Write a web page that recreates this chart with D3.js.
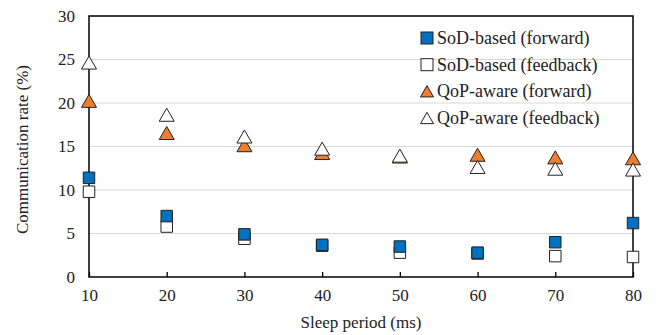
<!DOCTYPE html>
<html>
<head>
<meta charset="utf-8">
<script src="https://cdn.jsdelivr.net/npm/d3@7/dist/d3.min.js"></script>
<style>
  html, body { margin: 0; padding: 0; background: #fff; }
  svg { display: block; }
</style>
</head>
<body>
<svg id="chart" width="656" height="335" font-family="Liberation Serif"></svg>
<script>
// Sleep period (ms) on the x axis
const sleepPeriods = [10, 20, 30, 40, 50, 60, 70, 80];
const yTicks = [0, 5, 10, 15, 20, 25, 30];

// Communication rate (%) for each scheme
const sodForward   = [11.4, 7.0, 4.9, 3.7, 3.5, 2.8, 4.0, 6.2];
const sodFeedback  = [9.8, 5.8, 4.4, 3.6, 2.8, 2.7, 2.4, 2.3];
const qopForward   = [20.1, 16.4, 15.0, 14.1, 13.7, 13.9, 13.6, 13.5];
const qopFeedback  = [24.5, 18.5, 16.0, 14.6, 13.8, 12.5, 12.3, 12.2];

const seriesNames = ["SoD-based (forward)", "SoD-based (feedback)", "QoP-aware (forward)", "QoP-aware (feedback)"];

const series = [
  { name: seriesNames[0], values: sodForward,  shape: "square",   fill: "#0070c0" },
  { name: seriesNames[1], values: sodFeedback, shape: "square",   fill: "#ffffff" },
  { name: seriesNames[2], values: qopForward,  shape: "triangle", fill: "#ed7d31" },
  { name: seriesNames[3], values: qopFeedback, shape: "triangle", fill: "#ffffff" }
];

const TXT = "#222";

const svg = d3.select("#chart");
const margin = { left: 89, right: 23, top: 16, bottom: 58 };
const W = 656, H = 335;

const x = d3.scaleLinear().domain([10, 80]).range([margin.left, W - margin.right]);
const y = d3.scaleLinear().domain([0, 30]).range([H - margin.bottom, margin.top]);

function styleText(sel, size) {
  return sel.attr("font-family", "Liberation Serif").attr("font-size", size).attr("fill", TXT);
}

// horizontal gridlines
svg.append("g")
  .selectAll("line")
  .data(yTicks.filter(t => t > 0 && t < 30))
  .join("line")
  .attr("x1", x(10)).attr("x2", x(80))
  .attr("y1", d => y(d)).attr("y2", d => y(d))
  .attr("stroke", "#d9d9d9").attr("stroke-width", 1.2);

// y axis labels
const yAxis = d3.axisLeft(y).tickValues(yTicks).tickSize(0).tickPadding(14);
const gy = svg.append("g").attr("transform", `translate(${x(10)},0)`).call(yAxis);
gy.attr("font-family", "Liberation Serif").attr("font-size", 17);
gy.select(".domain").remove();
styleText(gy.selectAll("text"), 17);

// x axis with inward ticks
const xAxis = d3.axisBottom(x).tickValues(sleepPeriods).tickSizeInner(-5).tickSizeOuter(0).tickPadding(12);
const gx = svg.append("g").attr("transform", `translate(0,${y(0)})`).call(xAxis);
gx.attr("font-family", "Liberation Serif").attr("font-size", 17);
gx.select(".domain").remove();
gx.selectAll(".tick line").attr("stroke", "#000").attr("stroke-width", 1.3);
styleText(gx.selectAll("text"), 17);

// plot frame
svg.append("rect")
  .attr("x", x(10)).attr("y", y(30))
  .attr("width", x(80) - x(10)).attr("height", y(0) - y(30))
  .attr("fill", "none").attr("stroke", "#000").attr("stroke-width", 1.5);

// axis titles
styleText(svg.append("text")
  .attr("x", (x(10) + x(80)) / 2).attr("y", 328)
  .attr("text-anchor", "middle"), 17)
  .text("Sleep period (ms)");
styleText(svg.append("text")
  .attr("transform", `translate(28,${(y(0) + y(30)) / 2 + 3}) rotate(-90)`)
  .attr("text-anchor", "middle"), 17)
  .text("Communication rate (%)");

const squareSym = d3.symbol().type(d3.symbolSquare).size(132);
const triPath = s => {
  const h = s * 0.87;
  return `M0,${-h * 0.6}L${s / 2},${h * 0.4}L${-s / 2},${h * 0.4}Z`;
};

function marker(sel, shape, size) {
  return shape === "square" ? sel.attr("d", squareSym()) : sel.attr("d", triPath(size));
}

// markers; feedback squares go beneath forward squares, feedback triangles on top
const drawOrder = [series[1], series[0], series[2], series[3]];
drawOrder.forEach(s => {
  svg.append("g")
    .selectAll("path")
    .data(s.values.map((v, i) => ({ x: sleepPeriods[i], v })))
    .join("path")
    .attr("transform", d => `translate(${x(d.x)},${y(d.v)})`)
    .call(p => marker(p, s.shape, 15))
    .attr("fill", s.fill).attr("stroke", "#222").attr("stroke-width", 1);
});

// legend
const legend = svg.append("g").attr("transform", "translate(427,38)");
series.forEach((s, i) => {
  const g = legend.append("g").attr("transform", `translate(0,${i * 26.7})`);
  if (s.shape === "square") {
    g.append("rect").attr("x", -6).attr("y", -6).attr("width", 12).attr("height", 12)
      .attr("fill", s.fill).attr("stroke", "#222").attr("stroke-width", 1);
  } else {
    g.append("path").attr("d", triPath(13)).attr("transform", "translate(0,1)")
      .attr("fill", s.fill).attr("stroke", "#222").attr("stroke-width", 1);
  }
  styleText(g.append("text").attr("x", 10).attr("y", 6), 18).text(s.name);
});
</script>
</body>
</html>
